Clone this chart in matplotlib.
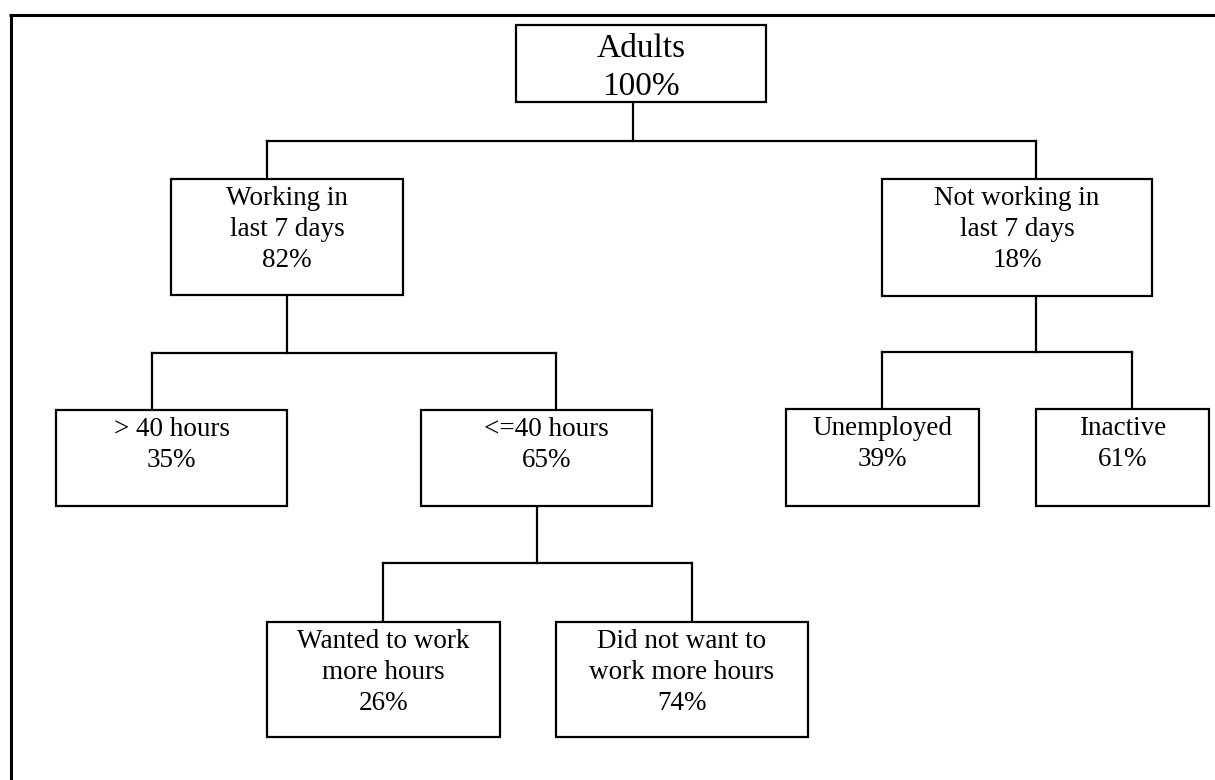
import matplotlib.pyplot as plt
from matplotlib.patches import Rectangle

# node texts, shares (%) and tree structure
labels = ["Adults", "Working in\nlast 7 days", "Not working in\nlast 7 days",
          "> 40 hours", "<=40 hours", "Unemployed", "Inactive",
          "Wanted to work\nmore hours", "Did not want to\nwork more hours"]
shares = [100, 82, 18, 35, 65, 39, 61, 26, 74]
parents = [None, 0, 0, 1, 1, 2, 2, 4, 4]

# layout in pixels (left, top, right, bottom)
boxes = [(516, 25, 766, 102), (171, 179, 403, 295), (882, 179, 1152, 296),
         (56, 410, 287, 506), (421, 410, 652, 506), (786, 409, 979, 506),
         (1036, 409, 1209, 506), (267, 622, 500, 737), (556, 622, 808, 737)]
drop_x = [None, 267, 1036, 152, 556, 882, 1132, 383, 692]
stem = {0: (633, 141), 1: (287, 353), 2: (1036, 352), 4: (537, 563)}
text_dx = [0, 0, 0, 0, 10, 0, 0, 0, 0]

W, H = 1215, 780
fig = plt.figure(figsize=(W / 100, H / 100), dpi=100)
ax = fig.add_axes([0, 0, 1, 1])
ax.set_xlim(0, W)
ax.set_ylim(H, 0)
ax.axis("off")

lw = 1.6
font = "Liberation Serif"

# frame (top and left only)
ax.plot([9, W], [15, 15], color="black", lw=2.2, solid_capstyle="butt")
ax.plot([11, 11], [15, H], color="black", lw=2.2, solid_capstyle="butt")

# connectors
for p, (sx, by) in stem.items():
    kids = [i for i, q in enumerate(parents) if q == p]
    ax.plot([sx, sx], [boxes[p][3], by], color="black", lw=lw)
    xs = [drop_x[k] for k in kids] + [sx]
    ax.plot([min(xs), max(xs)], [by, by], color="black", lw=lw)
    for k in kids:
        ax.plot([drop_x[k], drop_x[k]], [by, boxes[k][1]], color="black", lw=lw)

# boxes and texts
for i, (l, t, r, b) in enumerate(boxes):
    ax.add_patch(Rectangle((l, t), r - l, b - t, fill=True, facecolor="white",
                           edgecolor="black", lw=lw, zorder=3))
    lines = labels[i].split("\n") + [f"{shares[i]}%"]
    if i == 0:
        size, base, step = 24, 32, 38
    else:
        size, base, step = 19.5, 26, 31
    cx = (l + r) / 2 + text_dx[i]
    for j, s in enumerate(lines):
        ax.text(cx, t + base + j * step, s, ha="center", va="baseline",
                fontsize=size, family=font, zorder=4)

fig.savefig("out.png", dpi=100)
